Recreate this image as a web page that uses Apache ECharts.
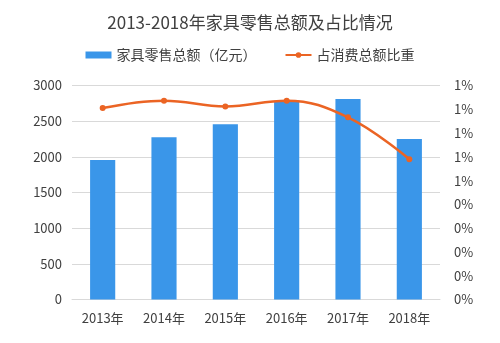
<!DOCTYPE html>
<html>
<head>
<meta charset="utf-8">
<script src="https://cdn.jsdelivr.net/npm/echarts@6/dist/echarts.min.js"></script>
<style>
  html, body { margin: 0; padding: 0; background: #ffffff; }
  #chart { width: 500px; height: 343px; }
</style>
</head>
<body>
<div id="chart"></div>
<script>
// Furniture retail sales 2013-2018 and share of total consumer retail
const years = ['2013年', '2014年', '2015年', '2016年', '2017年', '2018年'];
const retailSales = [1955, 2274, 2456, 2787, 2811, 2250];      // 亿元
const sharePercent = [0.805, 0.836, 0.812, 0.836, 0.766, 0.590]; // %
const leftTicks = [0, 500, 1000, 1500, 2000, 2500, 3000];
const rightTickLabels = ['0%', '0%', '0%', '0%', '0%', '1%', '1%', '1%', '1%', '1%'];

const FONT = '"Noto Sans CJK SC", "DejaVu Sans", sans-serif';
const BLUE = '#3A96E9';
const ORANGE = '#EB6424';

const chart = echarts.init(document.getElementById('chart'), null, { renderer: 'canvas' });

chart.setOption({
  animation: false,
  backgroundColor: '#ffffff',
  textStyle: { fontFamily: FONT },
  title: {
    text: '2013-2018年家具零售总额及占比情况',
    left: 'center',
    top: 9,
    textStyle: { fontFamily: FONT, fontSize: 17, fontWeight: 'normal', color: '#404040' }
  },
  legend: {
    top: 43,
    left: 'center',
    itemGap: 28,
    itemWidth: 26,
    itemHeight: 7,
    textStyle: { fontFamily: FONT, fontSize: 14, color: '#404040' },
    data: [
      { name: '家具零售总额（亿元）', icon: 'rect' },
      { name: '占消费总额比重' }
    ]
  },
  grid: { left: 72, right: 60, top: 85.5, bottom: 43.5 },
  xAxis: {
    type: 'category',
    data: years,
    axisLine: { lineStyle: { color: '#D9D9D9' } },
    axisTick: { show: false },
    axisLabel: { fontFamily: FONT, fontSize: 13, color: '#404040', margin: 12 }
  },
  yAxis: [
    {
      type: 'value',
      min: leftTicks[0],
      max: leftTicks[leftTicks.length - 1],
      interval: leftTicks[1] - leftTicks[0],
      axisLine: { show: false },
      axisTick: { show: false },
      splitLine: { lineStyle: { color: '#D9D9D9' } },
      axisLabel: {
        fontFamily: FONT, fontSize: 13, color: '#404040', margin: 10,
        formatter: function (v) { return String(v); }
      }
    },
    {
      type: 'value',
      min: 0,
      max: 0.9,
      interval: 0.1,
      axisLine: { show: false },
      axisTick: { show: false },
      splitLine: { show: false },
      axisLabel: {
        fontFamily: FONT, fontSize: 13, color: '#404040', margin: 14,
        formatter: function (v) { return rightTickLabels[Math.round(v * 10)]; }
      }
    }
  ],
  series: [
    {
      name: '家具零售总额（亿元）',
      type: 'bar',
      data: retailSales,
      barWidth: '41%',
      itemStyle: { color: BLUE }
    },
    {
      name: '占消费总额比重',
      type: 'line',
      yAxisIndex: 1,
      data: sharePercent,
      smooth: 0.4,
      symbol: 'circle',
      symbolSize: 6,
      lineStyle: { color: ORANGE, width: 2.5 },
      itemStyle: { color: ORANGE }
    }
  ]
});
</script>
</body>
</html>
